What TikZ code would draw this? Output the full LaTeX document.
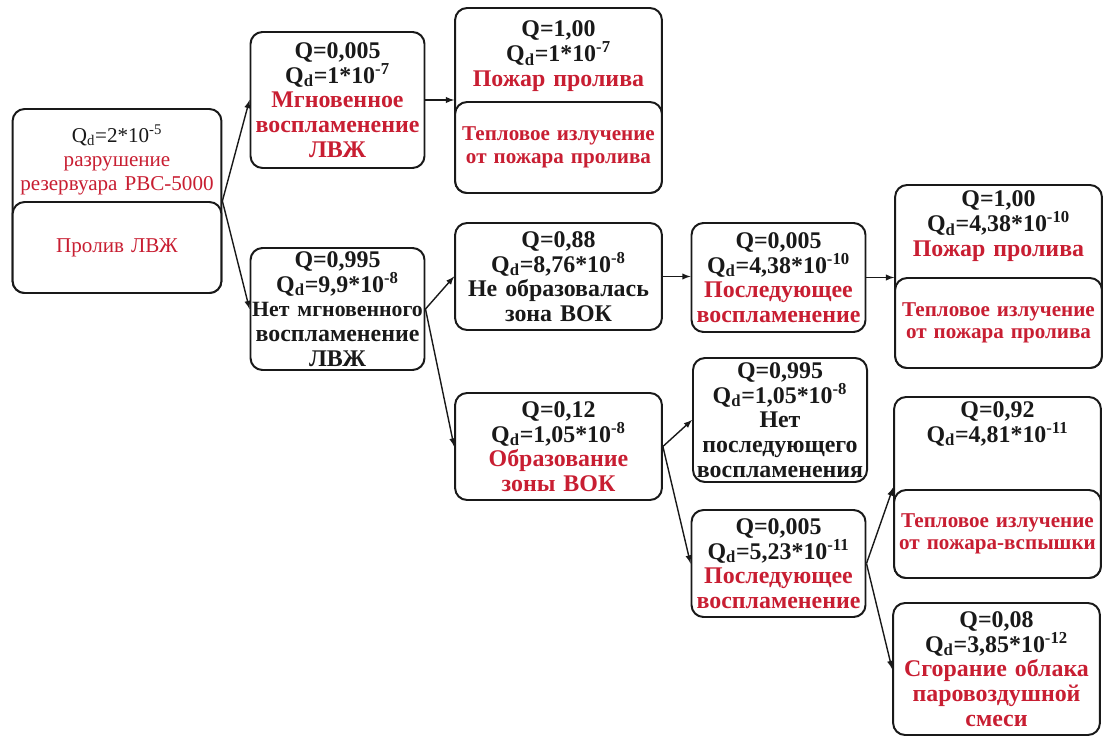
\documentclass[tikz,border=0pt]{standalone}
\usepackage{fontspec}
\setmainfont{Liberation Serif}
\usetikzlibrary{arrows,positioning}
\definecolor{colred}{RGB}{200,30,50}
\definecolor{colline}{RGB}{25,25,25}
\tikzset{
  % EVENT BOXES
  frameEvent/.style={
    rectangle,
    draw = colline,
    line width = 1.4pt,
    rounded corners = 3mm,
    text width = 4.28cm,
    inner xsep = 1pt, inner ysep = 0.5pt,
    text centered,
    text = colline,
    font = \fontsize{17}{17.5}\selectfont\bfseries
  },
  % WIDE BOXES
  frameWide/.style={
    frameEvent,
    text width = 5.1cm
  },
  % LOWER PART OF SPLIT BOXES
  frameLower/.style={
    frameWide,
    fill = white,
    text = colred,
    font = \fontsize{15}{16}\selectfont\bfseries
  },
  % TEXT OF UPPER PART
  frameText/.style={
    rectangle,
    text width = 5.1cm,
    inner sep = 0pt,
    text centered,
    text = colline,
    font = \fontsize{17}{17.5}\selectfont\bfseries
  },
  % TREE BRANCHES
  lineData/.style={
    draw = colline, line width = 1pt, -latex
  }
}

\begin{document}
\begin{tikzpicture}
\useasboundingbox (0,0) rectangle (27.65,-18.425);

% Initial event
\node [frameWide, text width=5.15cm, minimum height=4.6cm] (root) at (2.925,-5.025) {} ;
\node [frameLower, text width=5.15cm, minimum height=2.275cm,
       font=\fontsize{15}{17}\selectfont] (root_lower) at (2.925,-6.1875) {Пролив ЛВЖ} ;
\node [frameText, font=\fontsize{15}{17}\selectfont] (root_upper) at (2.925,-4.0) {Q\textsubscript{d}=2*10\textsuperscript{-5} \\ \textcolor{colred}{разрушение \\ резервуара РВС-5000}} ;

% Ignition at once or not
\node [frameEvent, minimum height=3.4cm] (inst_ign) at (8.4375,-2.5) {Q=0,005 \\ Q\textsubscript{d}=1*10\textsuperscript{-7} \\ \textcolor{colred}{Мгновенное \\ воспламенение \\ ЛВЖ}} ;
\node [frameEvent, minimum height=3.05cm] (no_inst_ign) at (8.4375,-7.725) {Q=0,995 \\ Q\textsubscript{d}=9,9*10\textsuperscript{-8} \\ {\fontsize{15.5}{17.5}\selectfont Нет мгновенного} \\ воспламенение \\ ЛВЖ} ;

% Pool fire, upper branch
\node [frameWide, minimum height=4.625cm] (pool_fire1) at (13.9625,-2.5125) {} ;
\node [frameLower, minimum height=2.275cm] (pool_fire1_lower) at (13.9625,-3.6875) {Тепловое излучение \\ от пожара пролива} ;
\node [frameText] (pool_fire1_upper) at (13.9625,-1.4) {Q=1,00 \\ Q\textsubscript{d}=1*10\textsuperscript{-7} \\ \textcolor{colred}{Пожар пролива}} ;

% Vapour zone or not
\node [frameWide, minimum height=2.675cm] (no_zone) at (13.9625,-6.9125) {Q=0,88 \\ Q\textsubscript{d}=8,76*10\textsuperscript{-8} \\ Не образовалась \\ зона ВОК} ;
\node [frameWide, minimum height=2.675cm] (zone) at (13.9625,-11.1625) {Q=0,12 \\ Q\textsubscript{d}=1,05*10\textsuperscript{-8} \\ \textcolor{colred}{Образование \\ зоны ВОК}} ;

% Later ignition
\node [frameEvent, minimum height=2.725cm] (late_ign1) at (19.4625,-6.9375) {Q=0,005 \\ Q\textsubscript{d}=4,38*10\textsuperscript{-10} \\ \textcolor{colred}{Последующее \\ воспламенение}} ;
\node [frameEvent, minimum height=3.1cm] (no_late_ign) at (19.5,-10.5) {Q=0,995 \\ Q\textsubscript{d}=1,05*10\textsuperscript{-8} \\ Нет \\ последующего \\ воспламенения} ;
\node [frameEvent, minimum height=2.675cm] (late_ign2) at (19.4625,-14.0875) {Q=0,005 \\ Q\textsubscript{d}=5,23*10\textsuperscript{-11} \\ \textcolor{colred}{Последующее \\ воспламенение}} ;

% Outcomes on the right
\node [frameWide, minimum height=4.575cm] (pool_fire2) at (24.9625,-6.9125) {} ;
\node [frameLower, minimum height=2.25cm] (pool_fire2_lower) at (24.9625,-8.075) {Тепловое излучение \\ от пожара пролива} ;
\node [frameText] (pool_fire2_upper) at (24.9625,-5.65) {Q=1,00 \\ Q\textsubscript{d}=4,38*10\textsuperscript{-10} \\ \textcolor{colred}{Пожар пролива}} ;

\node [frameWide, minimum height=4.525cm] (flash_fire) at (24.9375,-12.1875) {} ;
\node [frameLower, minimum height=2.2cm] (flash_fire_lower) at (24.9375,-13.35) {Тепловое излучение \\ от пожара-вспышки} ;
\node [frameText] (flash_fire_upper) at (24.9375,-10.6) {Q=0,92 \\ Q\textsubscript{d}=4,81*10\textsuperscript{-11}} ;

\node [frameWide, minimum height=3.3cm] (cloud_burn) at (24.9125,-16.725) {Q=0,08 \\ Q\textsubscript{d}=3,85*10\textsuperscript{-12} \\ \textcolor{colred}{Сгорание облака \\ паровоздушной \\ смеси}} ;

% Branches
\path [lineData] (root.east) -- (inst_ign.west) ;
\path [lineData] (root.east) -- (no_inst_ign.west) ;
\path [lineData] (inst_ign.east) -- (inst_ign.east -| pool_fire1.west) ;
\path [lineData] (no_inst_ign.east) -- (no_zone.west) ;
\path [lineData] (no_inst_ign.east) -- (zone.west) ;
\path [lineData] (no_zone.east) -- (no_zone.east -| late_ign1.west) ;
\path [lineData] (late_ign1.east) -- (late_ign1.east -| pool_fire2.west) ;
\path [lineData] (zone.east) -- (no_late_ign.west) ;
\path [lineData] (zone.east) -- (late_ign2.west) ;
\path [lineData] (late_ign2.east) -- (flash_fire.west) ;
\path [lineData] (late_ign2.east) -- (cloud_burn.west) ;

\end{tikzpicture}
\end{document}
